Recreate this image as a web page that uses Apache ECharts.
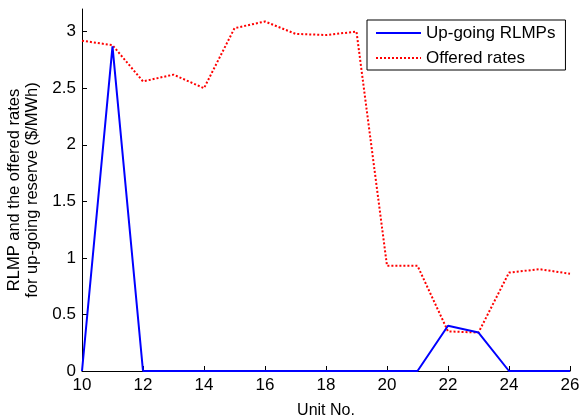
<!DOCTYPE html>
<html><head><meta charset="utf-8">
<script src="https://cdn.jsdelivr.net/npm/echarts@6/dist/echarts.min.js"></script>
<style>html,body{margin:0;padding:0;background:#fff}#c{width:579px;height:419px}</style>
</head><body><div id="c"></div>
<script>
var units = [10,11,12,13,14,15,16,17,18,19,20,21,22,23,24,25,26];
var rlmp = [0,2.87,0,0,0,0,0,0,0,0,0,0,0.40,0.34,0,0,0];
var offered = [2.92,2.88,2.56,2.62,2.50,3.03,3.09,2.98,2.97,3.00,0.93,0.93,0.35,0.34,0.87,0.90,0.86];
var xTicks = [10,12,14,16,18,20,22,24,26];
var yTicks = [0,0.5,1,1.5,2,2.5,3];
var FONT = 'Liberation Sans, Arial, sans-serif';
var chart = echarts.init(document.getElementById('c'));
function pairs(v){return units.map(function(u,i){return [u,v[i]];});}
chart.setOption({
  animation:false,
  grid:{left:82,right:9,top:9,bottom:48,containLabel:false,outerBoundsMode:'none'},
  xAxis:{type:'value',min:10,max:26,interval:2,
    name:'Unit No.',nameLocation:'middle',nameGap:32,
    nameTextStyle:{fontFamily:FONT,fontSize:16,color:'#000'},
    axisLine:{lineStyle:{color:'#000',width:1}},
    axisTick:{inside:true,length:5,lineStyle:{color:'#000'}},
    axisLabel:{fontFamily:FONT,fontSize:17,color:'#000',margin:6,
      formatter:function(v){return xTicks.indexOf(v)>=0?String(v):'';}},
    splitLine:{show:false}},
  yAxis:{type:'value',min:0,max:3.2,interval:0.5,
    name:'RLMP and the offered rates\nfor up-going reserve ($/MWh)',
    nameLocation:'middle',nameRotate:90,nameGap:38,
    nameTextStyle:{fontFamily:FONT,fontSize:16.5,color:'#000',lineHeight:18},
    axisLine:{show:true,lineStyle:{color:'#000',width:1}},
    axisTick:{inside:true,length:5,lineStyle:{color:'#000'}},
    axisLabel:{fontFamily:FONT,fontSize:17,color:'#000',margin:6,showMaxLabel:false,
      formatter:function(v){return yTicks.indexOf(v)>=0?String(v):'';}},
    splitLine:{show:false}},
  legend:{left:367,top:20,width:190,orient:'vertical',
    backgroundColor:'#fff',borderColor:'#000',borderWidth:1,
    padding:[3,10,2,8],itemGap:5,itemWidth:45,itemHeight:14,
    itemStyle:{opacity:0},
    textStyle:{fontFamily:FONT,fontSize:17,color:'#000',lineHeight:20},
    data:['Up-going RLMPs','Offered rates']},
  series:[
    {name:'Up-going RLMPs',type:'line',data:pairs(rlmp),symbol:'none',
      lineStyle:{color:'#0000ff',width:2},itemStyle:{color:'#0000ff'},z:3},
    {name:'Offered rates',type:'line',data:pairs(offered),symbol:'none',
      lineStyle:{color:'#ff0000',width:2,type:[2,2]},itemStyle:{color:'#ff0000'},z:2}
  ]
});
</script></body></html>
